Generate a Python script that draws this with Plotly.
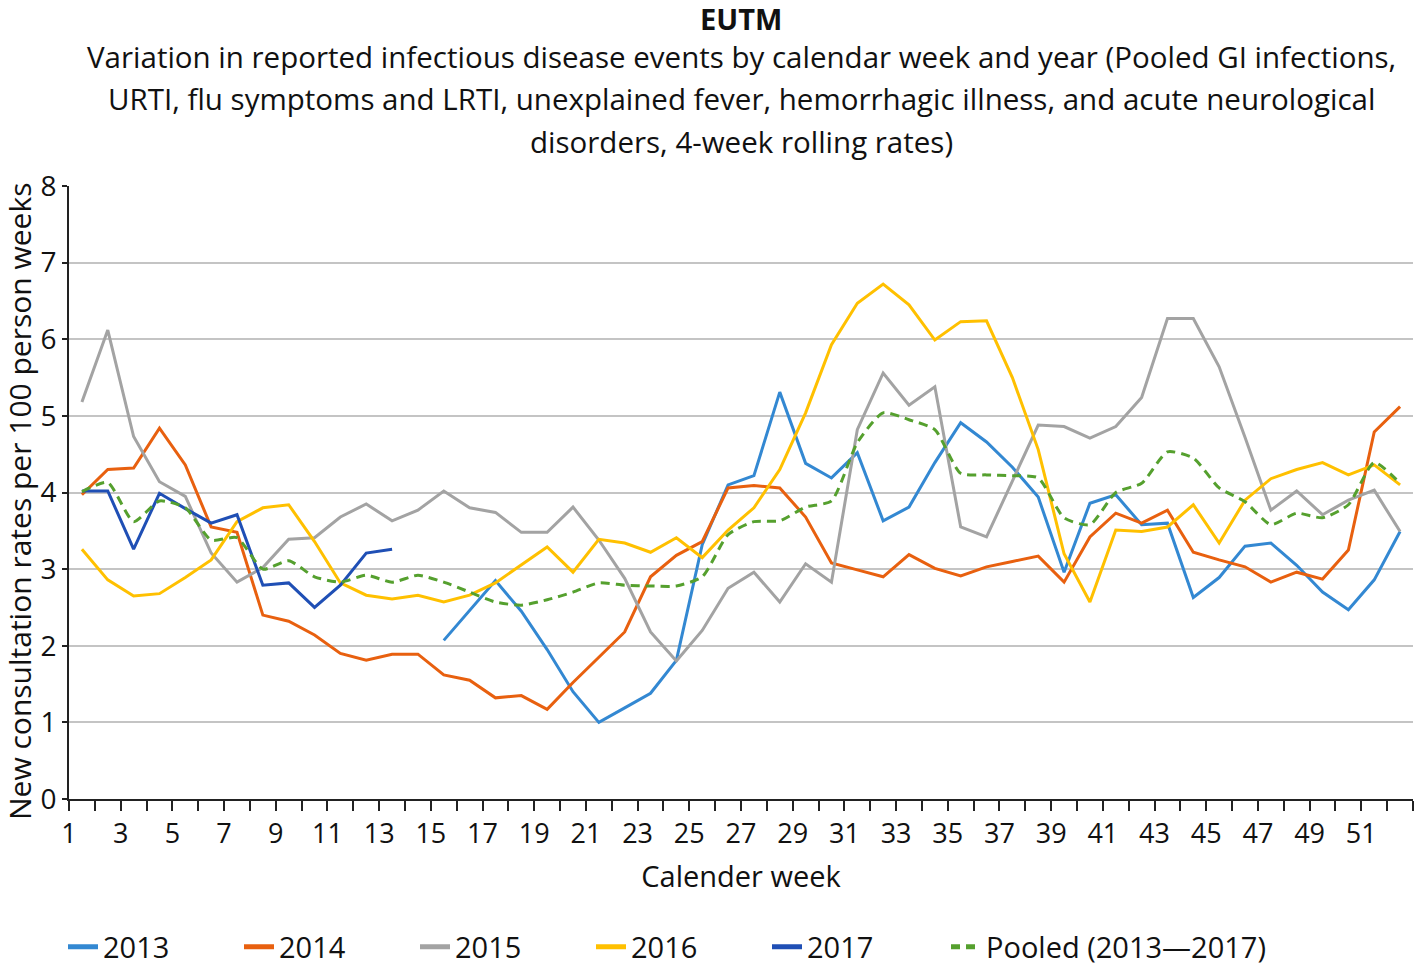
import plotly.graph_objects as go

weeks = list(range(1, 53))

y2013 = [None] * 14 + [2.07, 2.46, 2.85, 2.45, 1.95, 1.40, 1.00, 1.19, 1.38, 1.81,
                       3.32, 4.10, 4.22, 5.31, 4.38, 4.19, 4.52, 3.63, 3.81, 4.39,
                       4.91, 4.66, 4.33, 3.94, 2.96, 3.86, 3.97, 3.58, 3.60, 2.63,
                       2.89, 3.30, 3.34, 3.05, 2.70, 2.47, 2.86, 3.49]
y2014 = [3.97, 4.30, 4.32, 4.84, 4.36, 3.55, 3.48, 2.40, 2.32, 2.14,
         1.90, 1.81, 1.89, 1.89, 1.62, 1.55, 1.32, 1.35, 1.17, 1.52,
         1.85, 2.18, 2.90, 3.18, 3.36, 4.06, 4.09, 4.06, 3.68, 3.08,
         2.99, 2.90, 3.19, 3.01, 2.91, 3.03, 3.10, 3.17, 2.83, 3.42,
         3.73, 3.60, 3.77, 3.22, 3.12, 3.03, 2.83, 2.96, 2.87, 3.25,
         4.79, 5.12]
y2015 = [5.18, 6.12, 4.73, 4.14, 3.95, 3.21, 2.83, 3.02, 3.39, 3.41,
         3.68, 3.85, 3.63, 3.77, 4.02, 3.80, 3.74, 3.48, 3.48, 3.81,
         3.38, 2.88, 2.18, 1.80, 2.20, 2.75, 2.96, 2.57, 3.07, 2.83,
         4.82, 5.56, 5.14, 5.38, 3.55, 3.42, 4.15, 4.88, 4.86, 4.71,
         4.86, 5.24, 6.27, 6.27, 5.64, 4.72, 3.77, 4.02, 3.71, 3.90,
         4.03, 3.49]
y2016 = [3.26, 2.86, 2.65, 2.68, 2.89, 3.12, 3.62, 3.80, 3.84, 3.36,
         2.82, 2.66, 2.61, 2.66, 2.57, 2.66, 2.82, 3.05, 3.29, 2.96,
         3.39, 3.34, 3.22, 3.41, 3.15, 3.51, 3.80, 4.30, 5.04, 5.93,
         6.47, 6.72, 6.45, 5.99, 6.23, 6.24, 5.50, 4.56, 3.20, 2.57,
         3.51, 3.49, 3.55, 3.84, 3.34, 3.90, 4.18, 4.30, 4.39, 4.23,
         4.36, 4.10]
y2017 = [4.02, 4.02, 3.26, 3.99, 3.79, 3.60, 3.71, 2.79, 2.82, 2.50,
         2.79, 3.21, 3.26] + [None] * 39
pooled = [4.01, 4.13, 3.62, 3.89, 3.80, 3.38, 3.41, 3.00, 3.11, 2.90,
          2.83, 2.92, 2.83, 2.92, 2.83, 2.70, 2.57, 2.53, 2.60, 2.70,
          2.82, 2.79, 2.78, 2.78, 2.90, 3.45, 3.62, 3.63, 3.81, 3.89,
          4.65, 5.04, 4.95, 4.82, 4.25, 4.23, 4.22, 4.19, 3.67, 3.58,
          4.00, 4.12, 4.53, 4.45, 4.06, 3.88, 3.58, 3.73, 3.67, 3.84,
          4.39, 4.12]

series_names = ["2013", "2014", "2015", "2016", "2017"]
series_values = [y2013, y2014, y2015, y2016, y2017]
series_colors = ["#3388D2", "#E8600F", "#A3A3A3", "#FFC000", "#1F4FB5"]
pooled_name = "Pooled (2013\u20142017)"
pooled_color = "#55A02E"

title_line = "<b>EUTM</b>"
subtitle_lines = [
    "Variation in reported infectious disease events by calendar week and year (Pooled GI infections,",
    "URTI, flu symptoms and LRTI, unexplained fever, hemorrhagic illness, and acute neurological",
    "disorders, 4-week rolling rates)",
]
x_title = "Calender week"
y_title = "New consultation rates per 100 person weeks"

tick_positions = list(range(1, 54))
tick_labels = [str(t) if (t % 2 == 1 and t <= 51) else "" for t in tick_positions]

# data plotted in the middle of each week's interval
xpos = [w + 0.5 for w in weeks]

FONT = "Open Sans, Noto Sans, DejaVu Sans, sans-serif"

fig = go.Figure()
for name, vals, col in zip(series_names, series_values, series_colors):
    fig.add_trace(go.Scatter(x=xpos, y=vals, mode="lines", name=name, legend="legend",
                             line=dict(color=col, width=3), connectgaps=False))
fig.add_trace(go.Scatter(x=xpos, y=pooled, mode="lines", name=pooled_name, legend="legend2",
                         line=dict(color=pooled_color, width=3, dash="9px,6px",
                                   shape="spline", smoothing=0.6)))

W, H = 1418, 965
PL, PR, PT, PB = 69, 1413, 186, 799  # pixel box of the plot area
L, R, T, B = PL, W - PR, PT, H - PB
plot_h = PB - PT
plot_w = PR - PL

def ypaper(py):
    return (PB - py) / plot_h

def xpaper(px):
    return (px - PL) / plot_w

annotations = [dict(text=title_line, x=0.5, y=ypaper(19), xref="paper", yref="paper",
                    showarrow=False, xanchor="center", yanchor="middle",
                    font=dict(size=29, color="#111111", family=FONT))]
for py, line in zip([56, 98, 141], subtitle_lines):
    annotations.append(dict(text=line, x=0.5, y=ypaper(py), xref="paper", yref="paper",
                            showarrow=False, xanchor="center", yanchor="middle",
                            font=dict(size=29.5, color="#111111", family=FONT)))
annotations.append(dict(text=y_title, x=xpaper(19), y=ypaper(501), xref="paper", yref="paper",
                        showarrow=False, xanchor="center", yanchor="middle", textangle=-90,
                        font=dict(size=30, color="#111111", family=FONT)))

leg_font = dict(size=29, family=FONT, color="#111111")
fig.update_layout(
    width=W, height=H,
    margin=dict(l=L, r=R, t=T, b=B, autoexpand=False),
    paper_bgcolor="white", plot_bgcolor="white",
    font=dict(family=FONT, size=27, color="#111111"),
    showlegend=True,
    legend=dict(orientation="h", x=xpaper(63), xanchor="left", y=ypaper(947), yanchor="middle",
                entrywidth=131, entrywidthmode="pixels", font=leg_font,
                itemsizing="constant", traceorder="normal"),
    legend2=dict(orientation="h", x=xpaper(946), xanchor="left", y=ypaper(947), yanchor="middle",
                 font=leg_font, itemsizing="constant"),
    annotations=annotations,
)

fig.update_xaxes(
    range=[1, 53], tickmode="array", tickvals=tick_positions, ticktext=tick_labels,
    ticks="outside", ticklen=10, tickwidth=2, tickcolor="#222222",
    showline=True, linecolor="#222222", linewidth=2, showgrid=False, zeroline=False,
    tickfont=dict(size=27, family=FONT, color="#111111"),
    title=dict(text=x_title, font=dict(size=29, family=FONT, color="#111111"), standoff=16),
)
fig.update_yaxes(
    range=[0, 8], tickmode="linear", tick0=0, dtick=1,
    ticks="outside", ticklen=5, tickwidth=2, tickcolor="#222222",
    showline=True, linecolor="#222222", linewidth=2,
    showgrid=True, gridcolor="#C4C4C4", gridwidth=2, zeroline=False,
    tickfont=dict(size=28, family=FONT, color="#111111"),
)

# remove the browser's default 8px body margin so the figure fills the window exactly
fig.write_html("out.html", config={"displayModeBar": False},
               post_script="document.body.style.margin='0';document.body.style.overflow='hidden';")
